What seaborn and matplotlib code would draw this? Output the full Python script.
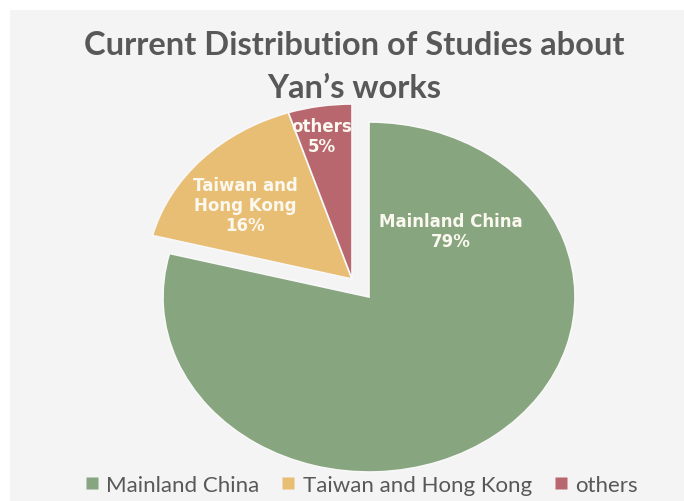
import matplotlib
matplotlib.use("Agg")
import matplotlib.pyplot as plt
import seaborn as sns
from matplotlib.patches import Rectangle
from matplotlib.lines import Line2D

categories = ["Mainland China", "Taiwan and Hong Kong", "others"]
values = [79, 16, 5]
inner_labels = ["Mainland China\n79%", "Taiwan and\nHong Kong\n16%", "others\n5%"]
colors = ["#87a57e", "#e8be74", "#b8676f"]
title = "Current Distribution of Studies about\nYan\u2019s works"

sns.set_theme(style="white")
plt.rcParams["font.family"] = ["Lato", "DejaVu Sans"]

W, H = 684, 502
fig = plt.figure(figsize=(W / 100, H / 100), dpi=100)
fig.patch.set_facecolor("white")
fig.patches.append(Rectangle((10 / W, 0), 1, 1 - 11 / H, transform=fig.transFigure,
                             facecolor="#f4f4f4", edgecolor="none", zorder=-10))

# pie center at (369, 298) px from top; radii 206 x 175 px
cx, cy = 369, H - 298
rx, ry = 206, 175
lim = 1.15
ax = fig.add_axes([(cx - lim * rx) / W, (cy - lim * ry) / H, 2 * lim * rx / W, 2 * lim * ry / H])
ax.set_zorder(5)
ax.patch.set_alpha(0)

wedges, _ = ax.pie(values, colors=sns.color_palette(colors), startangle=90, counterclock=False,
                   radius=1.0, wedgeprops=dict(edgecolor="#f8f8f8", linewidth=1.2))
ax.set_aspect("auto")
ax.set_xlim(-lim, lim)
ax.set_ylim(-lim, lim)
ax.axis("off")

# explode Taiwan/HK and others together as a group
off = (-17 / rx, 18 / ry)
for w in wedges[1:]:
    w.set_center((off[0], off[1]))

label_pos = [(0.398, 0.377), (off[0] - 0.519, off[1] + 0.423), (off[0] - 0.146, off[1] + 0.817)]
for lab, (x, y) in zip(inner_labels, label_pos):
    ax.text(x, y, lab, ha="center", va="center", color="#fbf8ef", fontsize=12,
            fontweight="bold", family=["DejaVu Sans"], linespacing=1.12)

fig.text(0.518, 1 - 67 / H, title, ha="center", va="center", fontsize=23.5,
         fontweight="bold", color="#585858", linespacing=1.62)

handles = [Line2D([], [], marker="s", linestyle="none", markersize=9,
                  markerfacecolor=c, markeredgecolor="none") for c in colors]
fig.legend(handles, categories, loc="center", bbox_to_anchor=(0.527, 16 / H), ncol=3,
           frameon=False, fontsize=16, handletextpad=0.25, columnspacing=0.9,
           labelcolor="#585858", handlelength=0.8)

fig.savefig("out.png", dpi=100)
